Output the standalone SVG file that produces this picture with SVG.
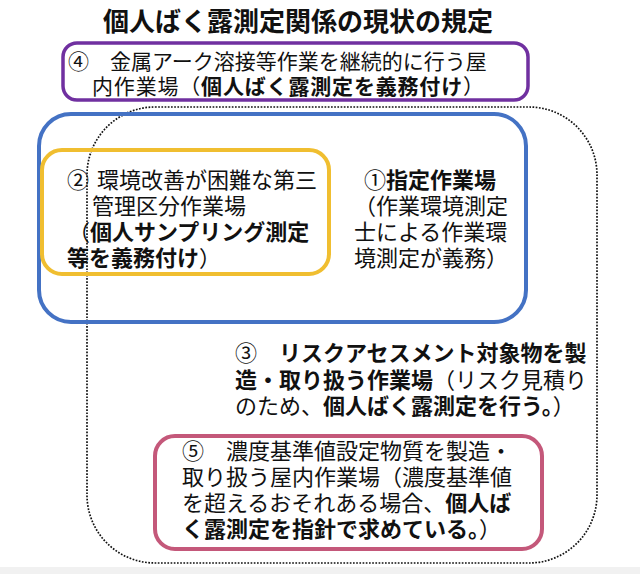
<svg xmlns="http://www.w3.org/2000/svg" width="640" height="574" viewBox="0 0 640 574">
<style>
text{font-family:"Noto Sans CJK JP","Noto Sans",sans-serif;fill:#111;font-size:22px}
.b{font-weight:700}
.t{font-size:26px;font-weight:700}
.s{font-size:21px}
.box{fill:none}
</style>
<rect x="0" y="0" width="640" height="574" fill="#ffffff"/>
<rect x="0" y="567" width="640" height="7" fill="#f1f1f1"/>
<text class="t" x="298" y="31" text-anchor="middle">個人ばく露測定関係の現状の規定</text>
<g id="connectors"></g>
<g id="node3">
<rect class="box" x="87" y="107" width="510" height="456" rx="68" stroke="#111" stroke-width="1.7" stroke-dasharray="1.7 1.5"/>
<text x="235" y="361">③　<tspan class="b">リスクアセスメント対象物を製</tspan></text>
<text x="235" y="388"><tspan class="b">造・取り扱う作業場</tspan>（リスク見積り</text>
<text x="235" y="414">のため、<tspan class="b">個人ばく露測定を行う。</tspan>）</text>
</g>
<g id="node4">
<rect class="box" x="63" y="43" width="465" height="57" rx="14" stroke="#7030A0" stroke-width="3.5"/>
<text class="s" x="68" y="69">④　金属アーク溶接等作業を継続的に行う屋</text>
<text class="s" x="92" y="94" textLength="392" lengthAdjust="spacing">内作業場（<tspan class="b">個人ばく露測定を義務付け</tspan>）</text>
</g>
<g id="node1">
<rect class="box" x="39" y="114" width="487" height="208" rx="32" stroke="#4472C4" stroke-width="4"/>
<text x="364" y="188">①<tspan class="b">指定作業場</tspan></text>
<text x="354" y="214">（作業環境測定</text>
<text x="354" y="240">士による作業環</text>
<text x="354" y="266">境測定が義務）</text>
</g>
<g id="node2">
<rect class="box" x="42" y="150" width="287" height="124" rx="20" stroke="#F0BE30" stroke-width="4"/>
<text x="67" y="188">②<tspan x="97">環境改善が困難な第三</tspan></text>
<text x="92" y="214">管理区分作業場</text>
<text x="68" y="240">（<tspan class="b">個人サンプリング測定</tspan></text>
<text x="67" y="266"><tspan class="b">等を義務付け</tspan>）</text>
</g>
<g id="node5">
<rect class="box" x="155" y="436" width="387" height="113" rx="20" stroke="#C4587A" stroke-width="4"/>
<text x="182" y="459">⑤　濃度基準値設定物質を製造・</text>
<text x="182" y="485">取り扱う屋内作業場（濃度基準値</text>
<text x="182" y="511">を超えるおそれある場合、<tspan class="b">個人ば</tspan></text>
<text x="182" y="537"><tspan class="b">く露測定を指針で求めている。</tspan>）</text>
</g>
</svg>
